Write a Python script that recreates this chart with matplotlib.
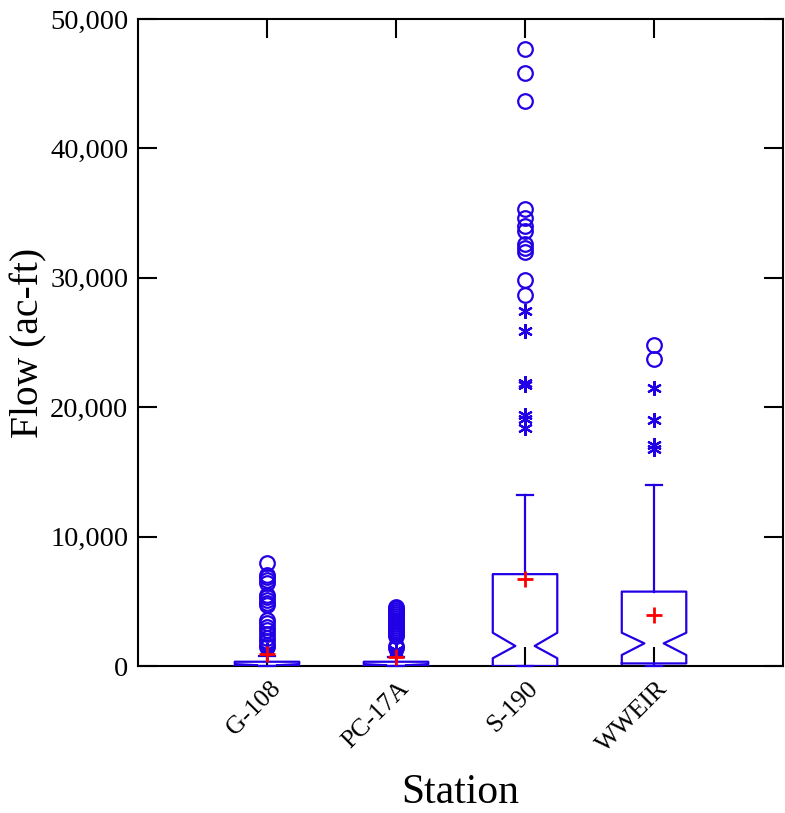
import numpy as np
import matplotlib.pyplot as plt
import matplotlib.transforms as mtransforms
from matplotlib.ticker import FuncFormatter

plt.rcParams['font.family'] = ['Liberation Serif', 'DejaVu Serif']

# 各站点统计量 (ac-ft)
stations = ['G-108', 'PC-17A', 'S-190', 'WWEIR']
q1 = [0, 0, 0, 200]
q3 = [330, 330, 7100, 5750]
medians = [60, 60, 1550, 1750]
notch_lo = [0, 0, 600, 850]
notch_hi = [150, 150, 2570, 2570]
whisker_lo = [0, 0, 0, 0]
whisker_hi = [780, 700, 13200, 14000]
means = [900, 720, 6700, 3950]

# 1.5-3 IQR 之间 (星号)
near_out = [
    [1250, 1100],
    [1250, 1080],
    [27400, 25900, 21900, 21700, 19400, 19100, 18400],
    [21500, 18980, 17050, 16800],
]
# 超过 3 IQR (圆圈)
far_out = [
    [7950, 7050, 6850, 6650, 6450, 5500, 5300, 5100, 4900, 4700,
     3550, 3300, 3000, 2750, 2450, 2200, 1950, 1650, 1450],
    [4580, 4450, 4300, 4150, 4000, 3850, 3700, 3550, 3400, 3250,
     3100, 2950, 2800, 2650, 2500, 2350, 1550, 1400],
    [47700, 45800, 43700, 35300, 34600, 34000, 33600, 32600, 32300,
     32000, 29800, 28700],
    [24770, 23740],
]

BLUE = '#2200e6'
RED = '#ff0000'
BOX_W = 0.5
CAP_W = 0.125
NOTCH = 0.3

fig = plt.figure(figsize=(7.85, 8.13), dpi=100)
ax = fig.add_axes([0.1758, 0.1808, 0.8217, 0.7958])

for i, name in enumerate(stations):
    pos = i + 1
    hw = BOX_W / 2
    nw = hw * NOTCH
    # 带缺口的箱体
    bx = [pos - hw, pos + hw, pos + hw, pos + nw, pos + hw, pos + hw,
          pos - hw, pos - hw, pos - nw, pos - hw, pos - hw]
    by = [q1[i], q1[i], notch_lo[i], medians[i], notch_hi[i], q3[i],
          q3[i], notch_hi[i], medians[i], notch_lo[i], q1[i]]
    ax.plot(bx, by, color=BLUE, lw=1.6, zorder=3)
    # 须线和端帽
    ax.plot([pos, pos], [q3[i], whisker_hi[i]], color=BLUE, lw=1.6, zorder=3)
    ax.plot([pos, pos], [q1[i], whisker_lo[i]], color=BLUE, lw=1.6, zorder=3)
    ax.plot([pos - CAP_W / 2, pos + CAP_W / 2], [whisker_hi[i]] * 2,
            color=BLUE, lw=1.6, zorder=3)
    ax.plot([pos - CAP_W / 2, pos + CAP_W / 2], [whisker_lo[i]] * 2,
            color=BLUE, lw=1.6, zorder=3, clip_on=False)
    # 异常值
    ax.plot([pos] * len(far_out[i]), far_out[i], ls='none', marker='o',
            ms=10.5, mfc='none', mec=BLUE, mew=1.6, zorder=4)
    ax.plot([pos] * len(near_out[i]), near_out[i], ls='none', marker=(6, 2, 0),
            ms=10.5, mec=BLUE, mew=1.6, zorder=4)
    # 均值
    ax.plot([pos], [means[i]], ls='none', marker='+', ms=11, mec=RED,
            mew=2, zorder=5)

ax.set_xlim(0, 5)
ax.set_ylim(0, 50000)
ax.set_xticks(range(1, len(stations) + 1))
ax.set_xticklabels(stations, rotation=45, ha='right', va='center',
                   rotation_mode='anchor', fontsize=18.5)
ax.set_yticks(np.arange(0, 50001, 10000))
ax.yaxis.set_major_formatter(FuncFormatter(lambda v, p: f'{v:,.0f}'))
ax.tick_params(axis='y', labelsize=20.5)
ax.tick_params(direction='in', length=14, width=1.5, top=True, right=True)
ax.tick_params(axis='x', pad=14)
ax.tick_params(axis='y', pad=7)

offset = mtransforms.ScaledTranslation(0.1, 0, fig.dpi_scale_trans)
for lab in ax.get_xticklabels():
    lab.set_transform(lab.get_transform() + offset)

for s in ax.spines.values():
    s.set_linewidth(1.5)

ax.set_xlabel('Station', fontsize=30, labelpad=12)
ax.set_ylabel('Flow (ac-ft)', fontsize=28.5, labelpad=2)

fig.savefig('out.png', dpi=100)
